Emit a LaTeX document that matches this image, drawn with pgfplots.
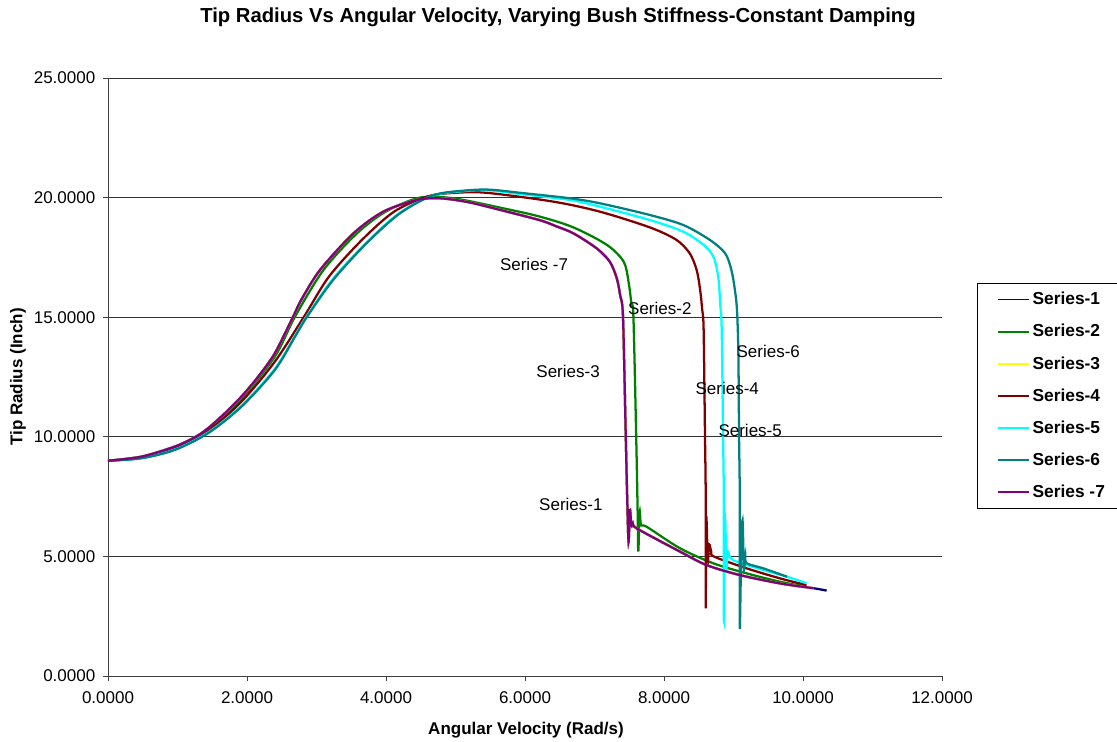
\documentclass[border=0pt]{standalone}
\usepackage{fontspec}
\setmainfont{Liberation Sans}
\usepackage{pgfplots}
\pgfplotsset{compat=1.18}
\definecolor{sA}{RGB}{0,0,128}
\definecolor{sB}{RGB}{0,128,0}
\definecolor{sC}{RGB}{255,255,0}
\definecolor{sD}{RGB}{128,0,0}
\definecolor{sE}{RGB}{0,255,255}
\definecolor{sF}{RGB}{0,128,128}
\definecolor{sG}{RGB}{128,0,128}
\begin{document}
\begin{tikzpicture}
\useasboundingbox (-81pt,-49.5pt) rectangle (756.75pt,507pt);
\begin{axis}[
  at={(0,0)}, anchor=south west,
  scale only axis, width=625.5pt, height=448.5pt,
  xmin=0, xmax=12, ymin=0, ymax=25,
  xtick={0,2,...,12}, ytick={0,5,...,25},
  axis x line*=bottom, axis y line*=left,
  axis line style={-, draw=black!75, line width=0.6pt},
  tick align=outside, major tick length=4pt,
  tick style={draw=black!75, line width=0.6pt},
  ymajorgrids, grid style={draw=black!80, line width=0.6pt},
  /pgf/number format/.cd, fixed, fixed zerofill, precision=4, assume math mode=true, 1000 sep={},
  /pgfplots/.cd,
  ticklabel style={font=\fontsize{12.75}{15}\selectfont},
  yticklabel style={xshift=-2pt},
  xticklabel style={yshift=-4pt},
  legend style={at={(axis description cs:1.042,0.657)}, anchor=north west, draw=black, line width=0.6pt, fill=white,
    font=\bfseries\fontsize{13}{15}\selectfont, row sep=9.2pt, inner xsep=15pt, inner ysep=4.5pt},
  legend cell align=left,
  legend image code/.code={\draw[#1, line width=1.4pt, sharp plot] (0pt,0pt) -- (23pt,0pt);},
  every axis plot/.append style={line width=1.7pt, smooth, tension=0.5},
]
% Series-1
\addplot[sA] coordinates {
(0,9.00) (0.48,9.17) (0.96,9.59) (1.25,9.98) (1.44,10.36) (1.68,10.98) (1.92,11.68) (2.16,12.51) (2.40,13.49) (2.66,15.00) (2.78,15.72) (3.05,16.97) (3.53,18.50) (3.96,19.41) (4.44,19.90) (4.78,19.97) (5.20,19.80) (5.69,19.45) (6.22,19.05) (6.45,18.80) (6.70,18.50) (7.03,17.88) (7.22,17.32) (7.32,16.63) (7.37,15.90) (7.41,15.00) (7.45,10.0) (7.47,7.5) (7.49,5.61) (7.51,6.94) (7.53,6.30) (7.55,6.38) (7.62,6.15) (8.23,5.20) (8.61,4.64) (9.09,4.22) (9.67,3.87) (10.15,3.67) (10.34,3.57)};
\addlegendentry{Series-1}
% Series-2
\addplot[sB] coordinates {
(0,9.00) (0.48,9.16) (0.96,9.57) (1.44,10.32) (1.92,11.60) (2.40,13.35) (2.69,15.02) (3.10,16.97) (3.58,18.50) (4.00,19.42) (4.49,20.00) (4.97,19.97) (5.69,19.55) (6.22,19.20) (6.70,18.75) (7.18,18.02) (7.42,17.32) (7.49,16.48) (7.53,15.60) (7.56,15.00) (7.60,10.0) (7.62,7.0) (7.63,5.20) (7.65,6.87) (7.67,6.30) (7.75,6.24) (8.23,5.34) (8.71,4.71) (9.19,4.29) (9.67,3.94) (10.05,3.73)};
\addlegendentry{Series-2}
% Series-3
\addplot[sC] coordinates {
(0,9.00) (0.48,9.17) (0.96,9.59) (1.25,9.98) (1.44,10.36) (1.68,10.98) (1.92,11.68) (2.16,12.51) (2.40,13.49) (2.66,15.00) (2.78,15.72) (3.05,16.97) (3.53,18.50) (3.96,19.41) (4.44,19.90) (4.78,19.97) (5.20,19.80) (5.69,19.45) (6.22,19.05) (6.45,18.80) (6.70,18.50) (7.03,17.88) (7.22,17.32) (7.32,16.63) (7.37,15.90) (7.41,15.00) (7.45,10.0) (7.47,7.5) (7.49,5.61) (7.51,6.94) (7.53,6.30) (7.55,6.38) (7.62,6.15) (8.23,5.20) (8.61,4.64) (9.09,4.22) (9.67,3.87) (10.15,3.67)};
\addlegendentry{Series-3}
% Series-4
\addplot[sD] coordinates {
(0,9.00) (0.48,9.13) (0.96,9.52) (1.44,10.25) (1.92,11.47) (2.40,13.14) (2.82,15.02) (3.18,16.70) (3.66,18.25) (4.12,19.42) (4.60,20.05) (5.00,20.20) (5.45,20.20) (6.41,19.83) (7.08,19.41) (7.80,18.75) (8.18,18.23) (8.37,17.67) (8.47,16.97) (8.52,16.14) (8.55,15.30) (8.57,14.50) (8.59,10.0) (8.60,7.5) (8.60,2.83) (8.61,6.52) (8.63,4.80) (8.65,5.50) (8.68,5.20) (8.72,4.99) (9.19,4.50) (9.67,4.08) (10.05,3.80)};
\addlegendentry{Series-4}
% Series-5
\addplot[sE] coordinates {
(0,9.00) (0.48,9.11) (0.96,9.47) (1.44,10.18) (1.92,11.30) (2.40,12.84) (2.69,14.22) (2.85,15.00) (3.23,16.58) (3.71,18.10) (4.19,19.35) (4.67,20.08) (5.16,20.28) (5.50,20.30) (5.93,20.15) (6.65,19.90) (7.08,19.62) (7.80,19.06) (8.28,18.57) (8.57,18.02) (8.71,17.53) (8.78,16.69) (8.81,15.50) (8.83,14.50) (8.85,10.0) (8.86,7.5) (8.86,2.34) (8.87,5.00) (8.88,6.52) (8.90,4.60) (8.92,5.20) (8.99,4.85) (9.43,4.43) (9.77,4.15) (10.05,3.88)};
\addlegendentry{Series-5}
% Series-6
\addplot[sF] coordinates {
(0,9.00) (0.48,9.10) (0.96,9.45) (1.44,10.15) (1.92,11.26) (2.40,12.79) (2.69,14.18) (2.86,15.00) (3.24,16.56) (3.72,18.09) (4.20,19.34) (4.68,20.10) (5.16,20.30) (5.50,20.33) (5.93,20.20) (6.65,19.97) (7.08,19.76) (7.80,19.27) (8.28,18.85) (8.66,18.23) (8.88,17.67) (8.97,16.97) (9.02,16.14) (9.05,15.30) (9.07,13.50) (9.08,10.0) (9.09,7.5) (9.09,1.99) (9.11,5.00) (9.13,6.52) (9.15,4.50) (9.17,5.00) (9.19,4.71) (9.43,4.50) (9.77,4.15)};
\addlegendentry{Series-6}
% Series -7
\addplot[sG] coordinates {
(0,9.00) (0.48,9.17) (0.96,9.59) (1.25,9.98) (1.44,10.36) (1.68,10.98) (1.92,11.68) (2.16,12.51) (2.40,13.49) (2.66,15.00) (2.78,15.72) (3.05,16.97) (3.53,18.50) (3.96,19.41) (4.44,19.90) (4.78,19.97) (5.20,19.80) (5.69,19.45) (6.22,19.05) (6.45,18.80) (6.70,18.50) (7.03,17.88) (7.22,17.32) (7.32,16.63) (7.37,15.90) (7.41,15.00) (7.45,10.0) (7.47,7.5) (7.49,5.61) (7.51,6.94) (7.53,6.30) (7.55,6.38) (7.62,6.15) (8.23,5.20) (8.61,4.64) (9.09,4.22) (9.67,3.87) (10.15,3.67)};
\addlegendentry{Series -7}
\begin{scope}[every node/.style={font=\fontsize{12.75}{15}\selectfont}]
\node at (axis cs:6.13,17.22) {Series -7};
\node at (axis cs:7.94,15.38) {Series-2};
\node at (axis cs:6.62,12.75) {Series-3};
\node at (axis cs:6.66,7.19) {Series-1};
\node at (axis cs:9.50,13.59) {Series-6};
\node at (axis cs:8.91,12.04) {Series-4};
\node at (axis cs:9.24,10.28) {Series-5};
\end{scope}
\end{axis}
\node[font=\bfseries\fontsize{15.2}{18}\selectfont] at (337.5pt,494.25pt) {Tip Radius Vs Angular Velocity, Varying Bush Stiffness-Constant Damping};
\node[font=\bfseries\fontsize{12.75}{15}\selectfont] at (313.5pt,-40.5pt) {Angular Velocity (Rad/s)};
\node[font=\bfseries\fontsize{12.75}{15}\selectfont, rotate=90] at (-67.5pt,224.25pt) {Tip Radius (Inch)};
\end{tikzpicture}
\end{document}
